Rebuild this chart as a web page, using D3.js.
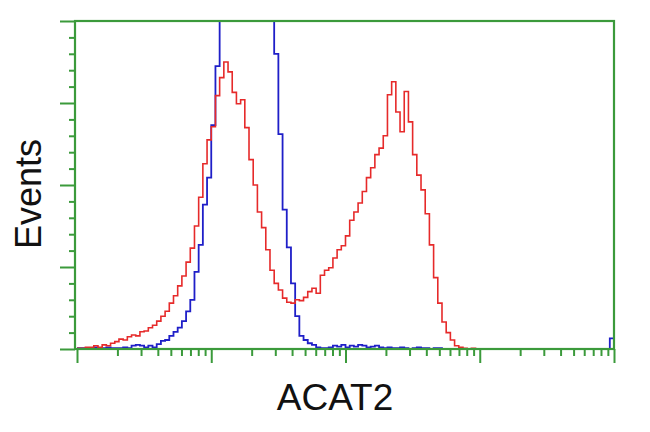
<!DOCTYPE html>
<html><head><meta charset="utf-8">
<script src="https://cdn.jsdelivr.net/npm/d3@7"></script>
<style>html,body{margin:0;padding:0;background:#fff;}svg{display:block;}</style>
</head><body><svg id="c" width="650" height="432"></svg>
<script>
// Channel bins: each bin spans 2 channels of a 256-channel, 4-decade log axis
const binWidth = 2;
const channelMax = 256;
const xDecades = [1, 10, 100, 1000, 10000];
const yMajorTicks = [0, 100, 200, 300, 400];
const xLabel = "ACAT2";
const yLabel = "Events";

// Red: ACAT2-stained sample (counts per bin)
const redCounts = [1,1,2,2,4,2,5,4,7,9,12,11,15,17,16,21,22,26,29,34,
  40,46,56,65,77,89,106,123,150,185,226,255,271,309,331,350,338,313,299,304,
  270,231,200,167,148,121,96,80,72,62,57,56,60,59,63,70,74,68,90,96,
  99,111,121,126,138,157,167,178,192,209,221,237,245,260,310,326,289,265,314,277,
  237,212,194,165,127,87,56,33,20,11,4,2,1,0,1,0,0,0,0,0,
  0,0,0,0,0,0,0,0,0,0,0,0,0,0,0,0,0,0,0,0,
  0,0,0,0,0,0,0,0];
// Blue: negative control (counts per bin; central peak runs off scale)
const blueCounts = [1,1,0,1,2,1,1,2,1,1,1,2,1,4,5,4,2,4,2,6,
  10,11,16,21,26,34,46,60,94,127,176,209,273,345,415,470,530,580,610,620,
  615,600,570,540,500,450,430,360,262,170,124,80,40,16,11,7,5,2,1,1,
  2,4,3,5,2,4,3,5,4,2,3,4,2,1,2,1,1,2,1,0,
  1,2,1,1,0,1,1,0,0,0,0,0,0,0,0,0,0,0,0,0,
  0,0,0,0,0,0,0,0,0,0,0,0,0,0,0,0,0,0,0,0,
  0,0,0,0,0,0,0,13];

const svg = d3.select("#c");
const green = "#3b9a3b";
const L = 75, R = 614, T = 21, B = 349;

const x = d3.scaleLinear().domain([0, channelMax]).range([77, 614]);
const xLog = d3.scaleLog().domain([1, 10000]).range([77, 614]);
const y = d3.scaleLinear().domain([0, 400]).range([B, T]);

svg.append("clipPath").attr("id", "clip").append("rect")
  .attr("x", L).attr("y", T).attr("width", R - L).attr("height", B - T);

const line = d3.line()
  .x(d => x(d[0]))
  .y(d => y(d[1]))
  .curve(d3.curveStepAfter);

function pts(arr) {
  const p = arr.map((v, i) => [i * binWidth, v]);
  p.push([arr.length * binWidth, arr[arr.length - 1]]);
  return p;
}

const g = svg.append("g").attr("clip-path", "url(#clip)");
g.append("path").attr("d", line(pts(blueCounts)))
  .attr("fill", "none").attr("stroke", "#1f1fc8").attr("stroke-width", 1.8);
g.append("path").attr("d", line(pts(redCounts)))
  .attr("fill", "none").attr("stroke", "#e62a2a").attr("stroke-width", 1.6);

// Y axis (left) with minor ticks
const yMinor = d3.range(0, 401, 20).filter(v => yMajorTicks.indexOf(v) < 0);
const yAxis = svg.append("g").attr("transform", `translate(${L},0)`);
yAxis.call(d3.axisLeft(y).tickValues(yMajorTicks).tickSize(15).tickFormat(""));
yAxis.append("g").call(d3.axisLeft(y).tickValues(yMinor).tickSize(6).tickFormat(""));

// X axis (bottom, log) with minor ticks
const xMinor = [];
for (let d = 0; d < 4; d++) for (let k = 2; k <= 9; k++) xMinor.push(k * Math.pow(10, d));
const xAxis = svg.append("g").attr("transform", `translate(0,${B})`);
xAxis.call(d3.axisBottom(xLog).tickValues(xDecades).tickSize(14).tickFormat(""));
xAxis.append("g").call(d3.axisBottom(xLog).tickValues(xMinor).tickSize(7).tickFormat(""));

svg.selectAll(".domain").remove();
svg.selectAll(".tick line").attr("stroke", green).attr("stroke-width", 2);

// Frame
svg.append("rect").attr("x", L).attr("y", T).attr("width", R - L).attr("height", B - T)
  .attr("fill", "none").attr("stroke", green).attr("stroke-width", 2.2);

svg.append("text").attr("x", 335).attr("y", 410).attr("text-anchor", "middle")
  .attr("font-family", "Liberation Sans, Arial, sans-serif").attr("font-size", 37)
  .attr("fill", "#111").text(xLabel);
svg.append("text").attr("transform", "translate(41,194) rotate(-90)").attr("text-anchor", "middle")
  .attr("font-family", "Liberation Sans, Arial, sans-serif").attr("font-size", 36)
  .attr("fill", "#111").text(yLabel);
</script></body></html>
